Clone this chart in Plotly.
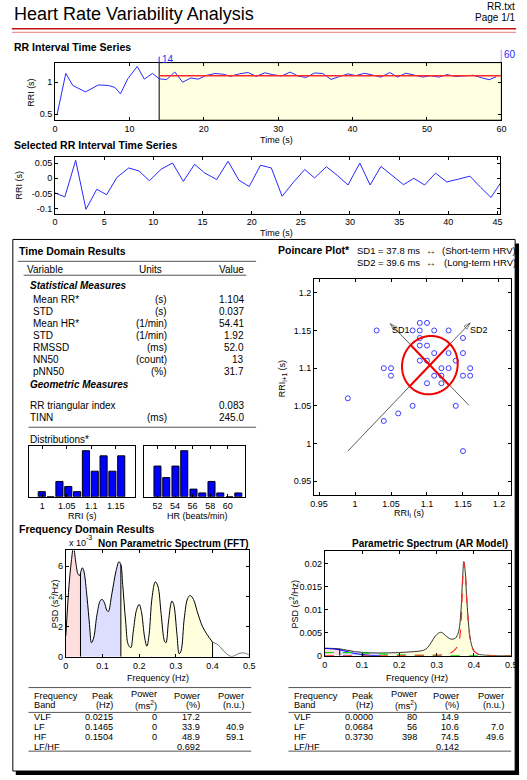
import plotly.graph_objects as go
import numpy as np

W, H = 527, 780
FONT = "Liberation Sans, Arial, Helvetica, sans-serif"

# ---------------- DATA ----------------
# RR series before the selected window (time s, RRI s)
pre_time = [0.26, 1.45, 2.4, 4.1, 5.85, 7.2, 8.05, 8.8, 9.8, 11.05, 12.0, 13.1]
pre_rri = [0.484, 1.14, 0.95, 0.85, 0.96, 0.95, 0.92, 0.82, 1.06, 1.25, 1.05, 1.14]
sel_start, sel_end = 14, 60
mean_rr = 1.104

# Selected (detrended) RR series
sel_time = [0.0, 1.0, 2.1, 3.15, 4.25, 5.25, 6.3, 7.5, 8.55, 9.6, 10.8, 11.95, 13.05, 14.2,
            15.2, 16.45, 17.6, 18.7, 19.75, 20.9, 22.0, 23.1, 24.2, 25.4, 26.4, 27.6, 28.7,
            29.8, 31.0, 32.05, 33.15, 34.3, 35.45, 36.5, 37.6, 38.7, 39.85, 41.0, 42.2,
            43.3, 44.35, 45.3]
sel_rri = [-0.048, -0.061, 0.059, -0.102, -0.036, -0.054, 0.003, 0.034, 0.024, -0.008,
           0.030, 0.050, -0.010, 0.046, 0.018, -0.004, 0.056, -0.006, -0.027, 0.043, 0.034,
           -0.059, -0.015, 0.029, 0.001, 0.038, 0.010, -0.022, 0.050, -0.022, 0.039, 0.010,
           -0.021, 0.000, -0.022, 0.017, -0.012, -0.003, 0.007, -0.030, -0.063, -0.016]

# Time domain results
td_vars = ["Mean RR*", "STD", "Mean HR*", "STD", "RMSSD", "NN50", "pNN50"]
td_units = ["(s)", "(s)", "(1/min)", "(1/min)", "(ms)", "(count)", "(%)"]
td_vals = ["1.104", "0.037", "54.41", "1.92", "52.0", "13", "31.7"]
geo_vars = ["RR triangular index", "TINN"]
geo_units = ["", "(ms)"]
geo_vals = ["0.083", "245.0"]

# Distributions
rr_bin_centers = [0.999, 1.017, 1.035, 1.053, 1.071, 1.089, 1.107, 1.125, 1.143, 1.161]
rr_counts = [1, 0, 3, 2, 1, 9, 5, 8, 5, 8]
hr_bin_centers = [52.0, 53.0, 54.05, 55.05, 56.1, 57.1, 58.15, 59.15, 60.2, 61.2]
hr_counts = [8, 5, 8, 12, 2, 1, 4, 1, 0, 1]

# Poincare
poin_x = [1.03, 1.08, 1.09, 1.10, 1.09, 1.11, 1.13, 1.09, 1.15, 1.09, 1.10, 1.11, 1.13, 1.15,
          1.09, 1.10, 1.14, 1.04, 1.05, 1.12, 1.13, 1.16, 1.05, 1.11, 1.12, 1.15, 1.16, 1.10,
          1.12, 0.99, 1.08, 1.14, 1.06, 1.04, 1.15]
poin_y = [1.15, 1.15, 1.16, 1.16, 1.15, 1.15, 1.15, 1.14, 1.14, 1.13, 1.13, 1.12, 1.12, 1.12,
          1.11, 1.11, 1.11, 1.10, 1.10, 1.10, 1.10, 1.10, 1.09, 1.09, 1.09, 1.09, 1.09, 1.08,
          1.08, 1.06, 1.05, 1.05, 1.04, 1.03, 0.99]
sd1, sd2 = 0.0378, 0.0396
sd2_axis = [(0.99, 0.99), (1.16, 1.16)]      # tail, tip
sd1_axis = [(1.158, 1.051), (1.049, 1.159)]  # tail, tip

# FFT spectrum (x10^-3 s^2/Hz)
fft_f = [0.0, 0.009, 0.015, 0.021, 0.027, 0.034, 0.0385, 0.04, 0.045, 0.049, 0.058, 0.0645,
         0.07, 0.076, 0.085, 0.094, 0.099, 0.105, 0.112, 0.116, 0.125, 0.137, 0.145, 0.15,
         0.155, 0.163, 0.17, 0.177, 0.184, 0.193, 0.2, 0.206, 0.215, 0.221, 0.227, 0.235,
         0.244, 0.251, 0.26, 0.269, 0.273, 0.28, 0.289, 0.294, 0.303, 0.309, 0.314, 0.323,
         0.332, 0.339, 0.348, 0.358, 0.372, 0.385, 0.4, 0.416, 0.43, 0.448, 0.457, 0.47,
         0.484, 0.497, 0.5]
fft_psd = [1.37, 4.8, 6.3, 7.3, 6.3, 5.45, 5.4, 5.55, 5.9, 5.7, 3.9, 2.15, 0.93, 1.26, 2.8,
           3.73, 3.8, 3.6, 3.07, 3.0, 4.1, 5.7, 6.3, 6.1, 4.8, 2.36, 0.82, 0.6, 1.7, 3.13, 3.47,
           3.0, 1.26, 0.7, 1.48, 3.9, 4.97, 4.68, 2.8, 1.04, 0.93, 2.36, 3.69, 3.47, 1.48, 0.2,
           0.38, 2.58, 3.86, 4.06, 3.8, 3.02, 2.03, 1.48, 0.97, 0.77, 0.38, 0.04, 0.04, 0.2,
           0.26, 0.15, 0.11]

# AR spectrum (s^2/Hz)
ar_f = [0, 0.02, 0.04, 0.06, 0.08, 0.10, 0.12, 0.15, 0.18, 0.20, 0.22, 0.24, 0.26, 0.27, 0.28,
        0.29, 0.30, 0.31, 0.315, 0.32, 0.33, 0.34, 0.35, 0.355, 0.36, 0.365, 0.37, 0.373,
        0.377, 0.38, 0.385, 0.39, 0.395, 0.40, 0.41, 0.42, 0.45, 0.5]
ar_psd = [0.00165, 0.0016, 0.0015, 0.0012, 0.0009, 0.00075, 0.00065, 0.0006, 0.00065, 0.0007,
          0.0008, 0.0009, 0.0011, 0.0014, 0.0022, 0.0035, 0.0046, 0.0051, 0.0050, 0.0047,
          0.0040, 0.0036, 0.0038, 0.0044, 0.0056, 0.0095, 0.0175, 0.0205, 0.018, 0.0135,
          0.0075, 0.0038, 0.002, 0.0011, 0.0004, 0.0002, 0.00005, 0.0]
ar_hf_f = [0, 0.1, 0.2, 0.3, 0.32, 0.33, 0.34, 0.35, 0.355, 0.36, 0.365, 0.37, 0.373, 0.377,
           0.38, 0.385, 0.39, 0.395, 0.40, 0.41, 0.42, 0.45, 0.5]
ar_hf_psd = [0.00002, 0.00003, 0.00006, 0.00015, 0.00025, 0.00035, 0.0007, 0.0014, 0.002,
             0.003, 0.0065, 0.0165, 0.0203, 0.0178, 0.0133, 0.0073, 0.0036, 0.0019, 0.001,
             0.0004, 0.0002, 0.00005, 0.0]
ar_lf_f = [0, 0.05, 0.1, 0.15, 0.2, 0.25, 0.3, 0.4, 0.5]
ar_lf_psd = [0.0007, 0.0007, 0.0006, 0.0004, 0.0002, 0.0001, 0.00005, 0.00002, 0.0]
ar_vlf_f = [0, 0.02, 0.04, 0.06, 0.08, 0.1, 0.12, 0.15]
ar_vlf_psd = [0.0016, 0.0015, 0.0013, 0.0009, 0.0005, 0.0003, 0.0001, 0.0]

band_names = ["VLF", "LF", "HF"]
band_edges = [0.0, 0.04, 0.15, 0.4]

fft_table = [["VLF", "0.0215", "0", "17.2", ""],
             ["LF", "0.1465", "0", "33.9", "40.9"],
             ["HF", "0.1504", "0", "48.9", "59.1"],
             ["LF/HF", "", "", "0.692", ""]]
ar_table = [["VLF", "0.0000", "80", "14.9", ""],
            ["LF", "0.0684", "56", "10.6", "7.0"],
            ["HF", "0.3730", "398", "74.5", "49.6"],
            ["LF/HF", "", "", "0.142", ""]]

# ---------------- HELPERS ----------------
def X(p):
    return p / W


def Y(p):
    return 1 - p / H


def dom_x(a, b):
    return [a / W, b / W]


def dom_y(top, bot):
    return [1 - bot / H, 1 - top / H]


annotations = []
shapes = []


def txt(x, y, s, size=10, anchor="left", bold=False, italic=False, color="black", angle=0):
    if bold:
        s = f"<b>{s}</b>"
    if italic:
        s = f"<i>{s}</i>"
    annotations.append(dict(x=X(x), y=Y(y), xref="paper", yref="paper", text=s,
                            showarrow=False, xanchor=anchor, yanchor="middle", textangle=angle,
                            font=dict(family=FONT, size=size, color=color), borderpad=0))


def hline(x0, x1, y, color="#555555", width=1):
    shapes.append(dict(type="line", xref="paper", yref="paper", x0=X(x0), x1=X(x1),
                       y0=Y(y), y1=Y(y), line=dict(color=color, width=width)))


def ax(**kw):
    d = dict(showline=True, linecolor="black", linewidth=1, mirror="ticks", ticks="inside",
             ticklen=3, tickcolor="black", showgrid=False, zeroline=False,
             tickfont=dict(family=FONT, size=9, color="black"), fixedrange=True)
    d.update(kw)
    return d


fig = go.Figure()
BLUE = "rgb(40,40,255)"

# ---------------- RR interval time series ----------------
full_t = pre_time + [sel_start + t for t in sel_time]
full_r = pre_rri + [mean_rr + v for v in sel_rri]
shapes.append(dict(type="rect", xref="x", yref="y domain", x0=sel_start, x1=sel_end, y0=0, y1=1,
                   fillcolor="rgb(255,255,225)", line=dict(color="black", width=1), layer="below"))
fig.add_trace(go.Scatter(x=full_t, y=full_r, mode="lines", line=dict(color=BLUE, width=1),
                         xaxis="x", yaxis="y"))
fig.add_trace(go.Scatter(x=[sel_start, sel_end], y=[mean_rr, mean_rr], mode="lines",
                         line=dict(color="rgb(255,40,40)", width=1.5), xaxis="x", yaxis="y"))
shapes.append(dict(type="line", xref="x", yref="paper", x0=sel_start, x1=sel_start,
                   y0=Y(63), y1=Y(57), line=dict(color=BLUE, width=1)))
shapes.append(dict(type="line", xref="x", yref="paper", x0=sel_end, x1=sel_end,
                   y0=Y(63), y1=Y(50), line=dict(color=BLUE, width=1)))
annotations.append(dict(x=sel_start, y=Y(60), xref="x", yref="paper", text=str(sel_start),
                        showarrow=False, xanchor="left", yanchor="middle", xshift=1,
                        font=dict(family=FONT, size=10, color=BLUE)))
annotations.append(dict(x=sel_end, y=Y(55), xref="x", yref="paper", text=str(sel_end),
                        showarrow=False, xanchor="left", yanchor="middle", xshift=1,
                        font=dict(family=FONT, size=10, color=BLUE)))

# ---------------- Selected RR ----------------
fig.add_trace(go.Scatter(x=sel_time, y=sel_rri, mode="lines", line=dict(color=BLUE, width=1),
                         xaxis="x2", yaxis="y2"))

# ---------------- Histograms ----------------
fig.add_trace(go.Bar(x=rr_bin_centers, y=rr_counts, width=0.0145,
                     marker=dict(color="rgb(0,0,255)", line=dict(color="black", width=1)),
                     xaxis="x3", yaxis="y3"))
fig.add_trace(go.Bar(x=hr_bin_centers, y=hr_counts, width=0.8,
                     marker=dict(color="rgb(0,0,255)", line=dict(color="black", width=1)),
                     xaxis="x4", yaxis="y4"))

# ---------------- Poincare ----------------
fig.add_trace(go.Scatter(x=poin_x, y=poin_y, mode="markers",
                         marker=dict(symbol="circle-open", size=5, color="rgb(60,60,255)",
                                     line=dict(width=1)),
                         xaxis="x5", yaxis="y5"))
c = mean_rr
u2 = np.array([1, 1]) / np.sqrt(2)
u1 = np.array([-1, 1]) / np.sqrt(2)
th = np.linspace(0, 2 * np.pi, 90)
ell = [c + sd2 * np.cos(t) * u2 + sd1 * np.sin(t) * u1 for t in th]
path = "M " + " L ".join(f"{p[0]:.5f},{p[1]:.5f}" for p in ell) + " Z"
shapes.append(dict(type="path", xref="x5", yref="y5", path=path,
                   line=dict(color="rgb(240,0,0)", width=2)))
for (tail, tip) in (sd2_axis, sd1_axis):
    fig.add_trace(go.Scatter(x=[tail[0], tip[0]], y=[tail[1], tip[1]], mode="lines+markers",
                             line=dict(color="#333333", width=0.8),
                             marker=dict(symbol="arrow-open", size=[0, 7], angleref="previous",
                                         color="#333333", line=dict(width=0.8, color="#333333")),
                             xaxis="x5", yaxis="y5"))
for u, s in ((u2, sd2), (u1, sd1)):
    a = c - s * u
    b = c + s * u
    fig.add_trace(go.Scatter(x=[a[0], b[0]], y=[a[1], b[1]], mode="lines",
                             line=dict(color="rgb(240,0,0)", width=2), xaxis="x5", yaxis="y5"))
annotations.append(dict(x=1.064, y=1.15, xref="x5", yref="y5", text="SD1", showarrow=False,
                        font=dict(family=FONT, size=9, color="black")))
annotations.append(dict(x=1.172, y=1.15, xref="x5", yref="y5", text="SD2", showarrow=False,
                        font=dict(family=FONT, size=9, color="black")))

# ---------------- FFT spectrum ----------------
fill_cols = {"VLF": "rgb(255,222,222)", "LF": "rgb(221,221,255)", "HF": "rgb(255,255,222)"}


def band_fill(freqs, vals, xa, ya):
    for i, name in enumerate(band_names):
        lo, hi = band_edges[i], band_edges[i + 1]
        idx = [k for k, f in enumerate(freqs) if lo - 1e-9 <= f <= hi + 1e-9]
        fig.add_trace(go.Scatter(x=[freqs[k] for k in idx], y=[vals[k] for k in idx],
                                 mode="lines", fill="tozeroy", fillcolor=fill_cols[name],
                                 line=dict(width=0, shape="spline"), xaxis=xa, yaxis=ya))


band_fill(fft_f, fft_psd, "x6", "y6")
i04 = fft_f.index(band_edges[-1])
fig.add_trace(go.Scatter(x=fft_f[:i04 + 1], y=fft_psd[:i04 + 1], mode="lines",
                         line=dict(color="black", width=1, shape="spline"), xaxis="x6", yaxis="y6"))
fig.add_trace(go.Scatter(x=fft_f[i04:], y=fft_psd[i04:], mode="lines",
                         line=dict(color="#777777", width=1, shape="spline"), xaxis="x6", yaxis="y6"))
for e in band_edges[1:]:
    v = fft_psd[fft_f.index(e)]
    shapes.append(dict(type="line", xref="x6", yref="y6", x0=e, x1=e, y0=0, y1=v,
                       line=dict(color="black", width=1)))

# ---------------- AR spectrum ----------------
band_fill(ar_f, ar_psd, "x7", "y7")
fig.add_trace(go.Scatter(x=ar_f, y=ar_psd, mode="lines",
                         line=dict(color="#333333", width=1, shape="spline"), xaxis="x7", yaxis="y7"))
fig.add_trace(go.Scatter(x=ar_vlf_f, y=ar_vlf_psd, mode="lines",
                         line=dict(color="rgb(0,0,255)", width=1, shape="spline"), xaxis="x7", yaxis="y7"))
fig.add_trace(go.Scatter(x=ar_lf_f, y=ar_lf_psd, mode="lines",
                         line=dict(color="rgb(0,220,0)", width=1.2, dash="dash", shape="spline"),
                         xaxis="x7", yaxis="y7"))
fig.add_trace(go.Scatter(x=ar_hf_f, y=ar_hf_psd, mode="lines",
                         line=dict(color="rgb(255,40,40)", width=1.2, dash="dash", shape="spline"),
                         xaxis="x7", yaxis="y7"))
e = band_edges[1]
shapes.append(dict(type="line", xref="x7", yref="y7", x0=e, x1=e, y0=0,
                   y1=ar_psd[ar_f.index(e)], line=dict(color="black", width=1)))

# ---------------- Page header ----------------
txt(9, 14, "Heart Rate Variability Analysis", size=18)
txt(522, 7, "RR.txt", size=10, anchor="right")
txt(522, 18, "Page 1/1", size=10, anchor="right")
hline(8, 522, 29, color="rgb(190,20,20)", width=1.5)
hline(8, 522, 32.5, color="rgb(230,120,120)", width=1)

txt(9, 47, "RR Interval Time Series", size=10.5, bold=True)
txt(28, 93, "RRI (s)", size=9, anchor="center", angle=-90)
txt(278, 141, "Time (s)", size=9, anchor="center")
txt(9, 146, "Selected RR Interval Time Series", size=10.5, bold=True)
txt(15, 186, "RRI (s)", size=9, anchor="center", angle=-90)
txt(278, 235, "Time (s)", size=9, anchor="center")

# ---------------- Panel frame ----------------
shapes.append(dict(type="rect", xref="paper", yref="paper", x0=X(12), x1=X(525), y0=Y(780), y1=Y(776),
                   fillcolor="black", line=dict(width=0)))
shapes.append(dict(type="rect", xref="paper", yref="paper", x0=X(521), x1=X(525), y0=Y(780), y1=Y(245),
                   fillcolor="black", line=dict(width=0)))
shapes.append(dict(type="rect", xref="paper", yref="paper", x0=X(9), x1=X(521), y0=Y(776), y1=Y(241),
                   line=dict(color="black", width=1)))

# ---------------- Time domain ----------------
txt(14, 253, "Time Domain Results", size=10.5, bold=True)
hline(14, 257, 263)
txt(22, 271, "Variable", size=10)
txt(162, 271, "Units", size=10, anchor="right")
txt(246, 271, "Value", size=10, anchor="right")
hline(20, 247, 277)
txt(25, 287, "Statistical Measures", size=10, bold=True, italic=True)
for i, (v, u, val) in enumerate(zip(td_vars, td_units, td_vals)):
    yy = 301 + 12.1 * i
    txt(29, yy, v, size=10)
    txt(167, yy, u, size=10, anchor="right")
    txt(246, yy, val, size=10, anchor="right")
txt(25, 387, "Geometric Measures", size=10, bold=True, italic=True)
for i, (v, u, val) in enumerate(zip(geo_vars, geo_units, geo_vals)):
    yy = 408 + 12 * i
    txt(25, yy, v, size=10)
    if u:
        txt(167, yy, u, size=10, anchor="right")
    txt(246, yy, val, size=10, anchor="right")
hline(25, 257, 430)
txt(25, 442, "Distributions*", size=10)
txt(80, 519, "RRI (s)", size=9, anchor="center")
txt(197, 519, "HR (beats/min)", size=9, anchor="center")

# ---------------- Poincare header ----------------
txt(278, 252, "Poincare Plot*", size=10.5, bold=True)
txt(359, 252, "SD1 = 37.8 ms", size=9.5)
txt(435, 252, "\u2194", size=10, anchor="center")
txt(523, 252, "(Short-term HRV)", size=9.5, anchor="right")
txt(359, 264, "SD2 = 39.6 ms", size=9.5)
txt(435, 264, "\u2194", size=10, anchor="center")
txt(523, 264, "(Long-term HRV)", size=9.5, anchor="right")
txt(284, 381, "RRI<sub>i+1</sub> (s)", size=9, anchor="center", angle=-90)
txt(413, 517, "RRI<sub>i</sub> (s)", size=9, anchor="center")

# ---------------- Frequency domain ----------------
txt(83, 541, "-3", size=7)
txt(14, 532, "Frequency Domain Results", size=10.5, bold=True)
txt(65, 547, "x 10", size=9)
txt(251, 547, "Non Parametric Spectrum (FFT)", size=10, bold=True, anchor="right")
txt(515, 547, "Parametric Spectrum (AR Model)", size=10, bold=True, anchor="right")
txt(51, 608, "PSD (s<sup>2</sup>/Hz)", size=9, anchor="center", angle=-90)
txt(296, 608, "PSD (s<sup>2</sup>/Hz)", size=9, anchor="center", angle=-90)
txt(157, 682, "Frequency (Hz)", size=9, anchor="center")
txt(421, 682, "Frequency (Hz)", size=9, anchor="center")

TS = 9.2


def freq_table(x_left, x_cols, x0, x1, rows):
    hline(x0, x1, 692)
    txt(x_left, 700.5, "Frequency", size=TS)
    txt(x_left, 710, "Band", size=TS)
    txt(x_cols[0], 700.5, "Peak", size=TS, anchor="right")
    txt(x_cols[0], 710, "(Hz)", size=TS, anchor="right")
    txt(x_cols[1], 698.5, "Power", size=TS, anchor="right")
    txt(x_cols[1], 710, "(ms<sup>2</sup>)", size=TS, anchor="right")
    txt(x_cols[2], 700.5, "Power", size=TS, anchor="right")
    txt(x_cols[2], 710, "(%)", size=TS, anchor="right")
    txt(x_cols[3], 700.5, "Power", size=TS, anchor="right")
    txt(x_cols[3], 710, "(n.u.)", size=TS, anchor="right")
    hline(x0, x1, 717)
    for i, row in enumerate(rows):
        yy = 722 + 9.8 * i
        txt(x_left, yy, row[0], size=TS)
        for j in range(4):
            if row[j + 1]:
                txt(x_cols[j], yy, row[j + 1], size=TS, anchor="right")
    hline(x0, x1, 756)


freq_table(30, [112, 157, 201, 246], 25, 252, fft_table)
freq_table(295, [377, 422, 465, 511], 290, 517, ar_table)

# ---------------- Layout ----------------
f5 = ["0", "0.1", "0.2", "0.3", "0.4", "0.5"]
fig.update_layout(
    width=W, height=H, margin=dict(l=0, r=0, t=0, b=0), showlegend=False,
    paper_bgcolor="white", plot_bgcolor="white", bargap=0,
    annotations=annotations, shapes=shapes,
    xaxis=ax(domain=dom_x(52, 507), range=[0, 60], tickvals=list(range(0, 61, 10)), anchor="y"),
    yaxis=ax(domain=dom_y(63, 121), range=[0.405, 1.31], tickvals=[0.5, 1], ticktext=["0.5", "1"], anchor="x"),
    xaxis2=ax(domain=dom_x(52, 506), range=[0, 45.3], tickvals=list(range(0, 46, 5)), anchor="y2"),
    yaxis2=ax(domain=dom_y(158, 215), range=[-0.116, 0.07], tickvals=[-0.1, -0.05, 0, 0.05],
              ticktext=["-0.1", "-0.05", "0", "0.05"], anchor="x2"),
    xaxis3=ax(domain=dom_x(25, 134), range=[0.972, 1.19], tickvals=[1, 1.05, 1.1, 1.15],
              ticktext=["1", "1.05", "1.1", "1.15"], anchor="y3"),
    yaxis3=ax(domain=dom_y(449, 500), range=[0, 9.9], anchor="x3", showticklabels=False, ticks="",
              tickvals=[], mirror=True),
    xaxis4=ax(domain=dom_x(143, 246), range=[50.5, 62.0], tickvals=[52, 54, 56, 58, 60], anchor="y4"),
    yaxis4=ax(domain=dom_y(449, 500), range=[0, 13.2], anchor="x4", showticklabels=False, ticks="",
              tickvals=[], mirror=True),
    xaxis5=ax(domain=dom_x(316, 517), range=[0.943, 1.217], tickvals=[0.95, 1, 1.05, 1.1, 1.15, 1.2],
              ticktext=["0.95", "1", "1.05", "1.1", "1.15", "1.2"], anchor="y5"),
    yaxis5=ax(domain=dom_y(281, 498), range=[0.932, 1.218], tickvals=[0.95, 1, 1.05, 1.1, 1.15, 1.2],
              ticktext=["0.95", "1", "1.05", "1.1", "1.15", "1.2"], anchor="x5"),
    xaxis6=ax(domain=dom_x(63, 250), range=[0, 0.5], tickvals=[0, 0.1, 0.2, 0.3, 0.4, 0.5], ticktext=f5, anchor="y6"),
    yaxis6=ax(domain=dom_y(554, 661), range=[0, 7.05], tickvals=[0, 2, 4, 6], anchor="x6"),
    xaxis7=ax(domain=dom_x(327, 517), range=[0, 0.5], tickvals=[0, 0.1, 0.2, 0.3, 0.4, 0.5], ticktext=f5, anchor="y7"),
    yaxis7=ax(domain=dom_y(555, 660), range=[0, 0.0227], tickvals=[0, 0.005, 0.01, 0.015, 0.02],
              ticktext=["0", "0.005", "0.01", "0.015", "0.02"], anchor="x7"),
)

fig.write_html("out.html", config={"staticPlot": True, "displayModeBar": False},
               post_script="document.body.style.margin='0';document.body.style.overflow='hidden';")
